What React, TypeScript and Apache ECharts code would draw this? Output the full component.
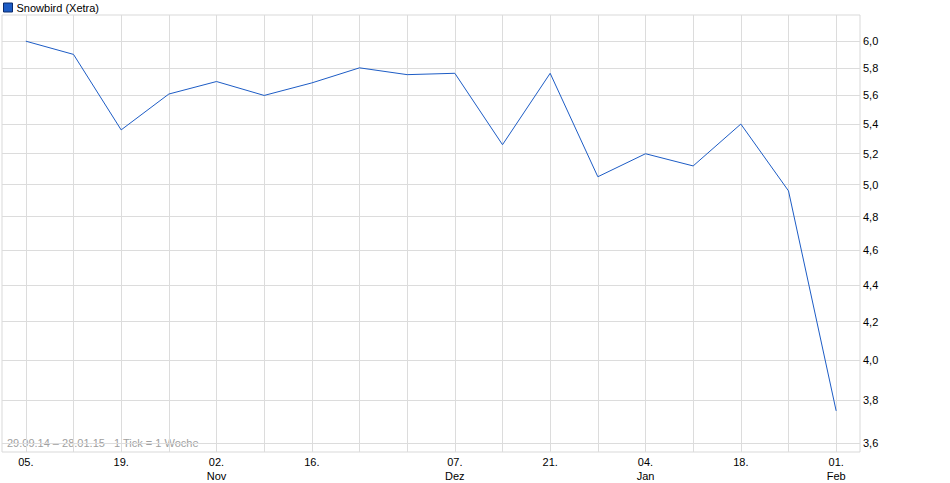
import React, { useEffect, useRef } from "react";
import * as echarts from "echarts";

const seriesName = "Snowbird (Xetra)";
const weekLabels = ["05.", "12.", "19.", "26.", "02.\nNov", "09.", "16.", "23.", "30.", "07.\nDez", "14.", "21.", "28.", "04.\nJan", "11.", "18.", "25.", "01.\nFeb"];
const shownLabelIdx = [0, 2, 4, 6, 9, 11, 13, 15, 17];
const prices = [6.0, 5.9, 5.36, 5.61, 5.7, 5.6, 5.69, 5.8, 5.75, 5.76, 5.26, 5.76, 5.05, 5.2, 5.12, 5.4, 4.96, 3.75];
const yTicks = [3.6, 3.8, 4.0, 4.2, 4.4, 4.6, 4.8, 5.0, 5.2, 5.4, 5.6, 5.8, 6.0];
const yMin = 3.559;
const yMax = 6.203;
const footnote = "29.09.14 – 28.01.15   1 Tick = 1 Woche";

const FONT = "'Liberation Sans', Arial, sans-serif";

export default function App() {
  const ref = useRef<HTMLDivElement>(null);
  useEffect(() => {
    document.body.style.margin = "0";
    const chart = echarts.init(ref.current!, null, { renderer: "svg" });
    const xIdx = weekLabels.map((_, i) => i);
    const yLog = yTicks.map((v) => Math.log(v));
    chart.setOption({
      animation: false,
      backgroundColor: "#ffffff",
      textStyle: { fontFamily: FONT },
      legend: {
        left: 3,
        top: 2,
        padding: 0,
        icon: "rect",
        itemWidth: 9,
        itemHeight: 9,
        itemGap: 4,
        textStyle: { fontSize: 11, color: "#000", fontFamily: FONT, padding: [0, 0, 0, -1] },
        itemStyle: { borderColor: "#0b2a6b", borderWidth: 1 },
        data: [seriesName],
      },
      grid: { left: 2, right: 90, top: 15, bottom: 30, show: true, borderColor: "#d9d9d9", borderWidth: 1 },
      xAxis: {
        type: "value",
        min: -0.5,
        max: weekLabels.length - 0.5,
        axisLine: { show: false },
        axisTick: { show: false, customValues: xIdx },
        splitLine: { show: true, lineStyle: { color: "#dcdcdc", width: 1 } },
        axisLabel: {
          customValues: shownLabelIdx,
          formatter: (v: number) => weekLabels[Math.round(v)] ?? "",
          fontSize: 11,
          color: "#000",
          fontFamily: FONT,
          margin: 3,
          lineHeight: 14,
        },
      },
      yAxis: {
        type: "value",
        position: "right",
        min: Math.log(yMin),
        max: Math.log(yMax),
        axisLine: { show: false },
        axisTick: { show: false, customValues: yLog },
        splitLine: { show: true, lineStyle: { color: "#dcdcdc", width: 1 } },
        axisLabel: {
          customValues: yLog,
          formatter: (v: number) => Math.exp(v).toFixed(1).replace(".", ","),
          fontSize: 11,
          color: "#000",
          fontFamily: FONT,
          margin: 3,
        },
      },
      graphic: [
        {
          type: "text",
          left: 7,
          top: 437,
          silent: true,
          style: { text: footnote, fill: "#a0a0a0", fontSize: 11, fontFamily: FONT },
        },
      ],
      series: [
        {
          name: seriesName,
          type: "line",
          data: prices.map((p, i) => [i, Math.log(p)]),
          showSymbol: false,
          symbol: "none",
          lineStyle: { color: "#1d5cc5", width: 1 },
          itemStyle: { color: "#1d5cc5" },
        },
      ],
    });
    return () => chart.dispose();
  }, []);
  return <div ref={ref} style={{ width: 950, height: 483 }} />;
}
